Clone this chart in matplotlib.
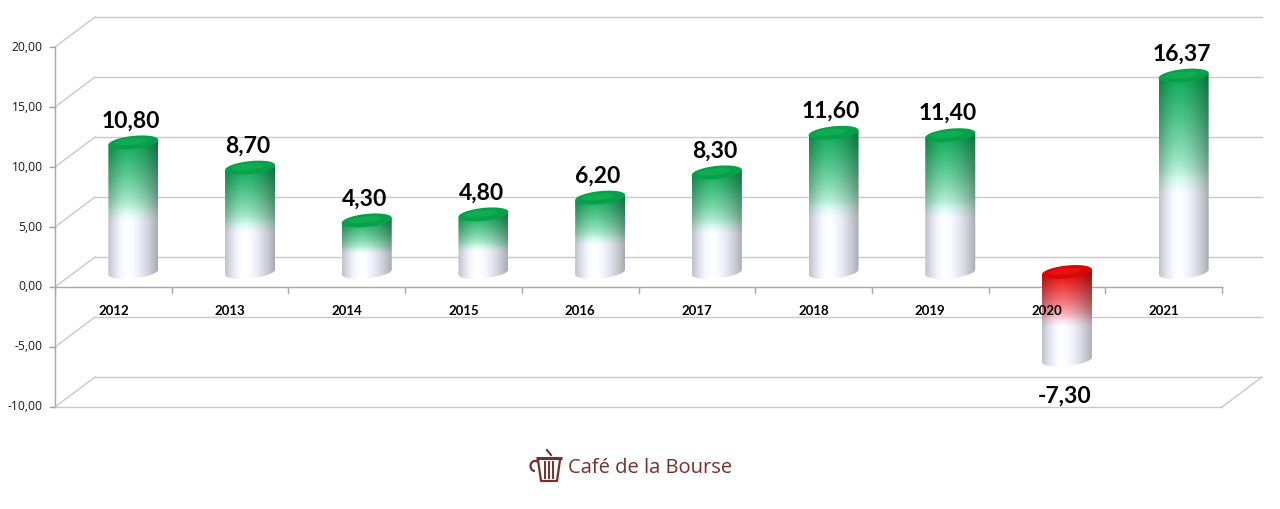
import matplotlib.pyplot as plt
import numpy as np
from matplotlib.path import Path
from matplotlib.patches import PathPatch, Polygon, Arc

years = ['2012', '2013', '2014', '2015', '2016', '2017', '2018', '2019', '2020', '2021']
values = [10.80, 8.70, 4.30, 4.80, 6.20, 8.30, 11.60, 11.40, -7.30, 16.37]
yticks = [-10, -5, 0, 5, 10, 15, 20]

W, H = 1280, 509
fig = plt.figure(figsize=(12.8, 5.09), dpi=100)
ax = fig.add_axes([0, 0, 1, 1])
ax.axis('off')

# front plane of the 3d box in pixels
px_left, px_right = 55, 1222
px_zero, px_unit = 287, 12
cat_px = (px_right - px_left) / len(years)
ax.set_xlim(-px_left / cat_px, (W - px_left) / cat_px)
ax.set_ylim(-(H - px_zero) / px_unit, px_zero / px_unit)
DX = 40 / cat_px      # depth offset
DY = 30 / px_unit
n = len(years)
ymin, ymax = yticks[0], yticks[-1]

grid = '#c9c9c9'
# walls / gridlines
for v in yticks:
    ax.plot([0, DX], [v, v + DY], color=grid, lw=1, zorder=1)
    ax.plot([DX, n + DX], [v + DY, v + DY], color=grid, lw=1, zorder=1)
    ax.plot([-0.045, 0], [v, v], color='#a0a0a0', lw=1, zorder=1)
    ax.text(-0.105, v, f'{v:.2f}'.replace('.', ','), ha='right', va='center',
            fontsize=8.7, color='#1a1a1a', family=['Open Sans', 'DejaVu Sans'])
ax.plot([0, 0], [ymin, ymax], color='#a8a8a8', lw=1, zorder=1)
ax.plot([0, n], [ymin, ymin], color=grid, lw=1, zorder=1)
ax.plot([n, n + DX], [ymin, ymin + DY], color=grid, lw=1, zorder=1)
# category axis
ax.plot([0, n], [0, 0], color='#a8a8a8', lw=1, zorder=2)
for k in range(n + 1):
    ax.plot([k, k], [0, -0.5], color='#a8a8a8', lw=1, zorder=2)


def body_colors(rows, cols, top_rgb, mint_rgb):
    t = np.linspace(0, 1, rows)[:, None]
    white = np.array([1.0, 1.0, 1.0])
    top_rgb = np.array(top_rgb)
    mint_rgb = np.array(mint_rgb)
    a = np.clip((t - 0.42) / 0.08, 0, 1)
    c = white * (1 - a[..., None]) + mint_rgb * a[..., None]
    b = np.clip((t - 0.5) / 0.5, 0, 1) ** 0.75
    c = c * (1 - b[..., None]) + top_rgb * b[..., None]
    u = np.linspace(0, 1, cols)[None, :]
    f = np.where(u < 0.4, 0.76 + 0.24 * np.sin(u / 0.4 * np.pi / 2),
                 1 - 0.33 * ((u - 0.4) / 0.6) ** 1.6)
    img = c * f[..., None]
    img[..., 2] = np.clip(img[..., 2] * 1.05, 0, 1)
    return np.clip(img, 0, 1)


a_w = 25 / cat_px
b_h = 6.5 / px_unit
tilt = 2.5 / px_unit
th = np.linspace(0, 2 * np.pi, 80)

for k, v in enumerate(values):
    cx = k + 0.5 + DX / 2
    base = DY / 2
    top, bot = (base + v, base) if v >= 0 else (base, base + v)
    if v >= 0:
        top_rgb, mint_rgb = (0.04, 0.66, 0.32), (0.82, 0.98, 0.88)
        cap, cap_hi = '#07a04a', '#19b35a'
    else:
        top_rgb, mint_rgb = (0.92, 0.0, 0.0), (1.0, 0.86, 0.86)
        cap, cap_hi = '#d90808', '#ee1a1a'
    lo = np.linspace(np.pi, 2 * np.pi, 40)
    pts = [(cx - a_w, top - tilt), (cx - a_w, bot - tilt)]
    pts += [(cx + a_w * np.cos(t), bot + b_h * np.sin(t) + tilt * np.cos(t)) for t in lo]
    pts += [(cx + a_w, top + tilt), (cx - a_w, top - tilt)]
    clip = PathPatch(Path(pts), facecolor='none', edgecolor='none', transform=ax.transData)
    ax.add_patch(clip)
    img = body_colors(200, 60, top_rgb, mint_rgb)
    im = ax.imshow(img, extent=[cx - a_w, cx + a_w, bot - b_h - tilt, top + tilt],
                   origin='lower', aspect='auto', zorder=3, interpolation='bilinear')
    im.set_clip_path(clip)
    ell = [(cx + a_w * np.cos(t), top + b_h * np.sin(t) + tilt * np.cos(t)) for t in th]
    ax.add_patch(Polygon(ell, closed=True, facecolor=cap, edgecolor='none', zorder=4))
    inner = [(cx - 0.1 * a_w + 0.65 * a_w * np.cos(t),
              top + 0.1 * b_h + 0.5 * b_h * np.sin(t) + 0.6 * tilt * np.cos(t)) for t in th]
    ax.add_patch(Polygon(inner, closed=True, facecolor=cap_hi, edgecolor='none',
                         alpha=0.6, zorder=4))
    ly = v + 3.05 if v >= 0 else v - 1.8
    ax.text(cx - 0.02, ly, f'{v:.2f}'.replace('.', ','), ha='center', va='center',
            fontsize=16.5, fontweight='bold', color='black',
            family=['Lato', 'DejaVu Sans'], zorder=6)
    ax.text(k + 0.5, -2.0, years[k], ha='center', va='center', fontsize=9.5,
            fontweight='bold', color='black', family=['Lato', 'DejaVu Sans'], zorder=6)

# logo
brown = '#7a2e2b'
lg = fig.add_axes([0, 0, 1, 1], zorder=-1)
lg.set_xlim(0, W)
lg.set_ylim(H, 0)
lg.axis('off')
lg.plot([536, 562], [458, 458], color=brown, lw=2.2, solid_capstyle='butt')
lg.plot([547, 551], [450, 455], color=brown, lw=1.5)
lg.plot([538, 541, 557, 560], [460, 481, 481, 460], color=brown, lw=1.6)
for xs in [545, 549, 553]:
    lg.plot([xs, xs], [462, 478], color=brown, lw=1.4)
lg.add_patch(Arc((535, 466), 9, 10, theta1=90, theta2=300, color=brown, lw=1.6))
lg.text(568, 468, 'Café de la Bourse', ha='left', va='center', fontsize=14.5,
        color=brown, family=['Open Sans', 'DejaVu Sans'])

fig.savefig('out.png', dpi=100, facecolor='white')
